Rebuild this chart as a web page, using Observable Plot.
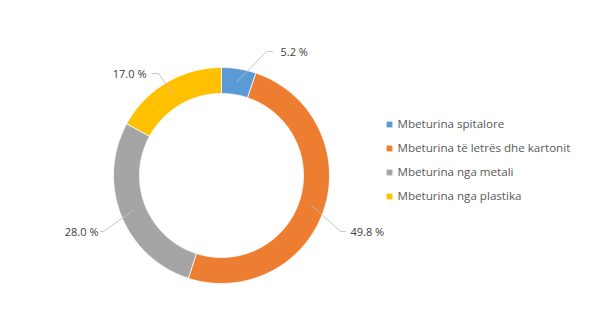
<!DOCTYPE html>
<html><head><meta charset="utf-8">
<script src="https://cdn.jsdelivr.net/npm/d3@7"></script>
<script src="https://cdn.jsdelivr.net/npm/@observablehq/plot@0.6"></script>
<style>html,body{margin:0;padding:0;background:#fff;}</style>
</head><body><div id="chart"></div>
<script>
const categories = ["Mbeturina spitalore", "Mbeturina të letrës dhe kartonit", "Mbeturina nga metali", "Mbeturina nga plastika"];
const values = [5.2, 49.8, 28.0, 17.0];
const labels = ["5.2 %", "49.8 %", "28.0 %", "17.0 %"];
const colors = ["#5B9BD5", "#ED7D31", "#A5A5A5", "#FFC000"];

// layout (pixels relative to donut centre)
const R = 108, r0 = 82, rLead = 95;
const labelLayout = [
  {elbow: [45, -124], end: [51, -124], text: [59, -123], anchor: "start"},
  {elbow: [119, 56], end: [124, 56], text: [129, 57], anchor: "start"},
  {elbow: [-118, 56], end: [-121, 56], text: [-123, 57], anchor: "end"},
  {elbow: [-63, -102], end: [-70, -102], text: [-75, -101], anchor: "end"}
];

const total = d3.sum(values);
const polys = [];
let acc = 0;
const mids = [];
values.forEach((v, i) => {
  const a0 = acc / total * 2 * Math.PI;
  const a1 = (acc + v) / total * 2 * Math.PI;
  acc += v;
  mids.push((a0 + a1) / 2);
  const n = Math.max(8, Math.ceil((a1 - a0) / 0.01));
  for (let k = 0; k <= n; k++) {
    const a = a0 + (a1 - a0) * k / n;
    polys.push({cat: categories[i], x: R * Math.sin(a), y: -R * Math.cos(a)});
  }
  for (let k = n; k >= 0; k--) {
    const a = a0 + (a1 - a0) * k / n;
    polys.push({cat: categories[i], x: r0 * Math.sin(a), y: -r0 * Math.cos(a)});
  }
});

const leaders = [];
mids.forEach((a, i) => {
  const L = labelLayout[i];
  leaders.push({i, x: rLead * Math.sin(a), y: -rLead * Math.cos(a)});
  leaders.push({i, x: L.elbow[0], y: L.elbow[1]});
  leaders.push({i, x: L.end[0], y: L.end[1]});
});
const textData = labels.map((t, i) => ({t, x: labelLayout[i].text[0], y: labelLayout[i].text[1], anchor: labelLayout[i].anchor}));

const legendX = 168, legendY0 = -51, legendStep = 24;
const legend = categories.map((c, i) => ({c, x: legendX, y: legendY0 + i * legendStep}));

const font = "'Open Sans', 'Noto Sans', sans-serif";
const chart = Plot.plot({
  width: 597, height: 323,
  margin: 0,
  x: {domain: [-221, 376], range: [0, 597], axis: null},
  y: {domain: [-175, 148], range: [0, 323], axis: null},
  color: {domain: categories, range: colors},
  style: {fontFamily: font, background: "#fff"},
  marks: [
    Plot.line(polys, {x: "x", y: "y", z: "cat", fill: "cat", stroke: "#fff", strokeWidth: 0.8, curve: "linear-closed"}),
    Plot.line(leaders, {x: "x", y: "y", z: "i", stroke: "#bfbfbf", strokeWidth: 0.9}),
    Plot.text(textData.filter(d => d.anchor === "start"), {x: "x", y: "y", text: "t", textAnchor: "start", fill: "#404040", fontSize: 11}),
    Plot.text(textData.filter(d => d.anchor === "end"), {x: "x", y: "y", text: "t", textAnchor: "end", fill: "#404040", fontSize: 11}),
    Plot.dot(legend, {x: "x", y: "y", fill: "c", symbol: "square", r: 3.3}),
    Plot.text(legend, {x: d => d.x + 8, y: "y", text: "c", textAnchor: "start", fill: "#595959", fontSize: 11.6})
  ]
});
document.getElementById("chart").appendChild(chart);
</script>
</body></html>
